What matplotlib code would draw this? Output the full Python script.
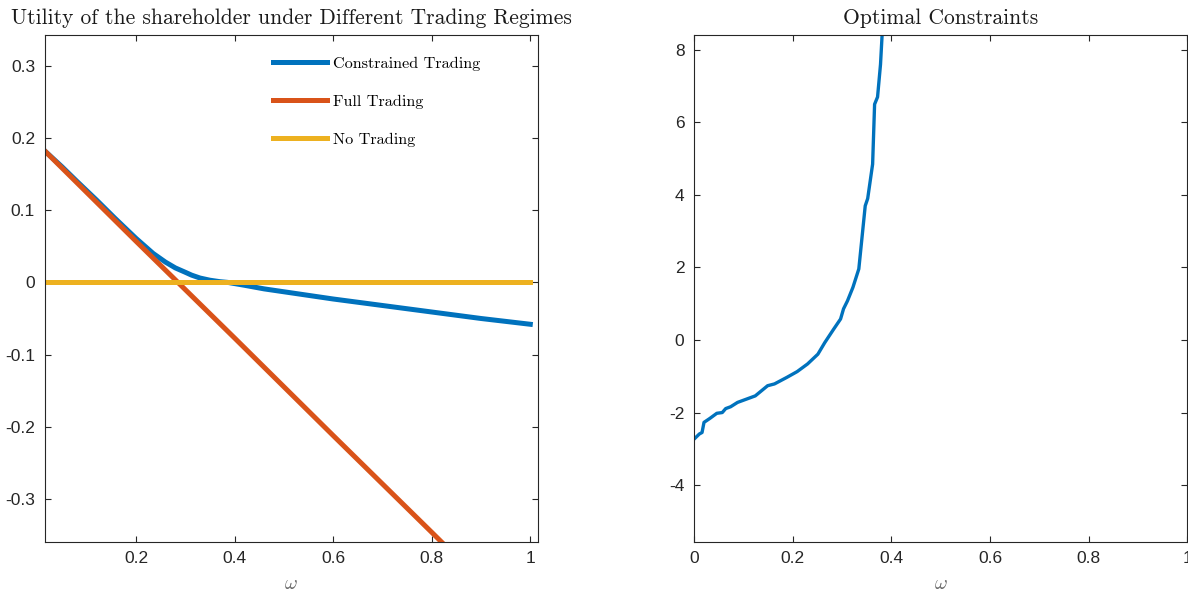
import matplotlib
matplotlib.use('Agg')
import matplotlib.pyplot as plt
from matplotlib.ticker import FuncFormatter

# left panel: shareholder utility against omega
w_con = [0.015, 0.05, 0.08, 0.12, 0.157, 0.2, 0.235, 0.26, 0.28, 0.30, 0.313,
         0.33, 0.35, 0.37, 0.386, 0.42, 0.46, 0.52, 0.6, 0.7, 0.8, 0.9, 1.0]
u_con = [0.182, 0.160, 0.140, 0.114, 0.089, 0.061, 0.040, 0.028, 0.020, 0.014, 0.010,
         0.006, 0.003, 0.001, 0.0, -0.004, -0.009, -0.015, -0.023, -0.032, -0.041, -0.050, -0.058]

w_full = [0.015, 0.2, 0.4, 0.6, 0.8, 1.0]
u_full = [0.182, 0.057, -0.077, -0.212, -0.346, -0.481]

w_none = [0.015, 1.0]
u_none = [0.0, 0.0]

# right panel: optimal constraint
w_opt = [0.0, 0.0106, 0.016, 0.02, 0.032, 0.046, 0.057, 0.064, 0.074, 0.088, 0.124,
         0.149, 0.163, 0.188, 0.209, 0.230, 0.251, 0.265, 0.283, 0.297, 0.303, 0.311,
         0.322, 0.334, 0.347, 0.352, 0.362, 0.366, 0.372, 0.378, 0.382, 0.386]
c_opt = [-2.73, -2.59, -2.55, -2.27, -2.16, -2.02, -2.0, -1.89, -1.84, -1.72, -1.54,
         -1.26, -1.21, -1.03, -0.87, -0.66, -0.39, -0.07, 0.30, 0.58, 0.86, 1.08,
         1.45, 1.96, 3.70, 3.90, 4.85, 6.50, 6.70, 7.60, 8.60, 9.50]

blue = '#0072BD'
red = '#D95319'
yellow = '#EDB120'
dark = '#262626'

plt.rcParams['axes.unicode_minus'] = False
plt.rcParams['mathtext.fontset'] = 'cm'
plt.rcParams['font.family'] = 'Liberation Sans'

fig = plt.figure(figsize=(11.88, 5.95), dpi=100)
ax1 = fig.add_axes([0.0377, 0.0896, 0.4149, 0.8516])
ax2 = fig.add_axes([0.5843, 0.0896, 0.4150, 0.8516])

ax1.plot(w_con, u_con, color=blue, lw=3.6, label='Constrained Trading')
ax1.plot(w_full, u_full, color=red, lw=3.6, label='Full Trading')
ax1.plot(w_none, u_none, color=yellow, lw=3.6, label='No Trading')
ax1.set_xlim(0.015, 1.015)
ax1.set_ylim(-0.359, 0.3425)
ax1.set_xticks([0.2, 0.4, 0.6, 0.8, 1.0])
ax1.set_yticks([-0.3, -0.2, -0.1, 0, 0.1, 0.2, 0.3])
ax1.set_title('Utility of the shareholder under Different Trading Regimes',
              family='cmr10', fontsize=15.5, color='#1a1a1a', pad=8)
ax1.legend(loc='upper left', bbox_to_anchor=(0.434, 0.986), frameon=False,
           prop={'family': 'cmr10', 'size': 11.7}, handlelength=3.3,
           handletextpad=0.37, labelspacing=1.44)

ax2.plot(w_opt, c_opt, color=blue, lw=2.4)
ax2.set_xlim(0, 1)
ax2.set_ylim(-5.56, 8.41)
ax2.set_xticks([0, 0.2, 0.4, 0.6, 0.8, 1.0])
ax2.set_yticks([-4, -2, 0, 2, 4, 6, 8])
ax2.set_title('Optimal Constraints', family='cmr10', fontsize=15.5,
              color='#1a1a1a', pad=8)

fmt = FuncFormatter(lambda v, p: '%g' % round(v, 3))
for ax in (ax1, ax2):
    ax.xaxis.set_major_formatter(fmt)
    ax.yaxis.set_major_formatter(fmt)
    ax.tick_params(direction='in', length=4, width=0.8, color=dark,
                   labelcolor=dark, labelsize=12.5, top=True, right=True, pad=7)
    for s in ax.spines.values():
        s.set_color(dark)
        s.set_linewidth(0.8)
    ax.set_xlabel(r'$\omega$', fontsize=14, color='#666666', labelpad=7)

fig.savefig('out.png', dpi=100)
